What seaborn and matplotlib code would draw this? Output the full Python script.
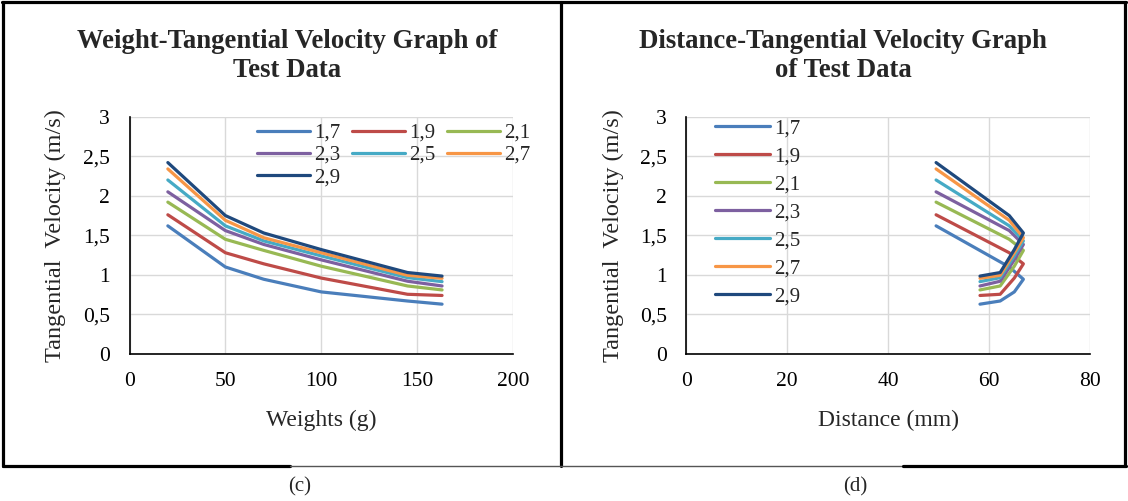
import numpy as np
import pandas as pd
import matplotlib
matplotlib.use("Agg")
import matplotlib.pyplot as plt
from matplotlib.lines import Line2D
from matplotlib.ticker import FuncFormatter, MultipleLocator
import seaborn as sns

# data
series = ["1,7", "1,9", "2,1", "2,3", "2,5", "2,7", "2,9"]
weights = [20, 50, 70, 100, 145, 163]
distances = [49.5, 64.0, 66.8, 65.0, 62.2, 58.2]

v_17 = [1.62, 1.10, 0.945, 0.785, 0.67, 0.63]
v_19 = [1.76, 1.28, 1.14, 0.96, 0.755, 0.74]
v_21 = [1.92, 1.45, 1.31, 1.11, 0.86, 0.81]
v_23 = [2.05, 1.56, 1.385, 1.19, 0.92, 0.86]
v_25 = [2.20, 1.62, 1.43, 1.24, 0.965, 0.915]
v_27 = [2.34, 1.69, 1.47, 1.28, 0.995, 0.957]
v_29 = [2.42, 1.75, 1.53, 1.32, 1.03, 0.985]
velocities = [v_17, v_19, v_21, v_23, v_25, v_27, v_29]

colors = ["#4A7EBB", "#BE4B48", "#98B954", "#7D60A0", "#46AAC5", "#F79646", "#1F497D"]

rows = []
for name, vals in zip(series, velocities):
    for w, d, v in zip(weights, distances, vals):
        rows.append({"series": name, "Weight": w, "Distance": d, "Velocity": v})
df = pd.DataFrame(rows)

sns.set_theme(style="whitegrid")
plt.rcParams["font.family"] = ["Liberation Serif", "DejaVu Serif"]
plt.rcParams["axes.edgecolor"] = "black"
plt.rcParams["grid.color"] = "#d9d9d9"

W, H = 1128, 501
fig = plt.figure(figsize=(W / 100, H / 100), dpi=100)
fig.patch.set_facecolor("white")

def px_axes(x0, x1, y_top, y_bot):
    return fig.add_axes([x0 / W, 1 - y_bot / H, (x1 - x0) / W, (y_bot - y_top) / H])

ax1 = px_axes(129.5, 513, 116.7, 354)
ax2 = px_axes(686.3, 1090, 116.7, 354)

comma = FuncFormatter(lambda v, _: f"{v:g}".replace(".", ","))

for ax, xcol, xmax, xstep, xlabel in [
    (ax1, "Weight", 200, 50, "Weights (g)"),
    (ax2, "Distance", 80, 20, "Distance (mm)"),
]:
    sns.lineplot(data=df, x=xcol, y="Velocity", hue="series", palette=colors,
                 estimator=None, sort=False, linewidth=2.3, ax=ax)
    ax.set_xlim(0, xmax)
    ax.set_ylim(0, 3)
    ax.xaxis.set_major_locator(MultipleLocator(xstep))
    ax.yaxis.set_major_locator(MultipleLocator(0.5))
    ax.yaxis.set_major_formatter(comma)
    ax.grid(True, color="#d9d9d9", linewidth=1.0)
    for s in ["top", "right"]:
        ax.spines[s].set_visible(False)
    for s in ["left", "bottom"]:
        ax.spines[s].set_color("black")
        ax.spines[s].set_linewidth(1.2)
    ax.tick_params(axis="both", length=0, labelsize=15.5, colors="black")
    ax.tick_params(axis="y", pad=14)
    ax.tick_params(axis="x", pad=13)
    ax.set_xlabel(xlabel, fontsize=17)
    ax.set_ylabel("Tangential  Velocity (m/s)", fontsize=17.5)
    ax.xaxis.set_label_coords(0.5, -0.235)

ax1.yaxis.set_label_coords(-0.166, 0.5)
ax2.yaxis.set_label_coords(-0.154, 0.5)

# legend on the left reads row by row, matplotlib fills column by column
handles, labels = ax1.get_legend_handles_labels()
order = [0, 3, 6, 1, 4, 2, 5]
ax1.legend([handles[i] for i in order], [labels[i] for i in order],
           ncol=3, loc="upper left", bbox_to_anchor=(0.332, 0.972), frameon=False,
           fontsize=15, handlelength=2.55, handletextpad=0.2, columnspacing=0.55,
           labelspacing=0.12, borderaxespad=0, borderpad=0)
ax2.legend(ncol=1, loc="upper left", bbox_to_anchor=(0.071, 0.99), frameon=False,
           fontsize=15, handlelength=2.65, handletextpad=0.2, labelspacing=0.4,
           borderaxespad=0, borderpad=0)

fig.text(287 / W, 1 - 56 / H, "Weight-Tangential Velocity Graph of\nTest Data",
         ha="center", va="center", fontsize=19.3, fontweight="bold", linespacing=1.2)
fig.text(843 / W, 1 - 56 / H, "Distance-Tangential Velocity Graph\nof Test Data",
         ha="center", va="center", fontsize=19.3, fontweight="bold", linespacing=1.2)
fig.text(300 / W, 1 - 487 / H, "(c)", ha="center", va="center", fontsize=15)
fig.text(855 / W, 1 - 487 / H, "(d)", ha="center", va="center", fontsize=15)

def border(x0, y0, x1, y1, lw=2.3, color="black"):
    fig.add_artist(Line2D([x0 / W, x1 / W], [1 - y0 / H, 1 - y1 / H],
                          transform=fig.transFigure, color=color, linewidth=lw))

border(2, 2, 1126, 2)
border(3, 2, 3, 466)
border(561, 2, 561, 466)
border(1125, 2, 1125, 466)
border(3, 466, 290, 466)
border(290, 466, 903, 466, lw=1.0, color="#555555")
border(903, 466, 1126, 466)

fig.savefig("out.png", dpi=100, facecolor="white")
